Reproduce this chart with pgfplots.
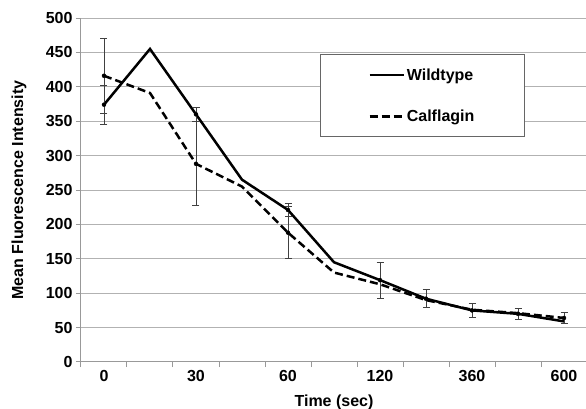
\documentclass[border=0pt]{standalone}
\usepackage{pgfplots}
\pgfplotsset{compat=1.18}
\usepackage{fontspec}
\setmainfont{Liberation Sans}

\newcommand{\lbl}{\bfseries\fontsize{16}{19}\selectfont}

\begin{document}
\begin{tikzpicture}
\path[use as bounding box] (-81pt,-47pt) rectangle (505pt,362pt);
\begin{axis}[
  scale only axis, width=506pt, height=344pt,
  xmin=-0.5, xmax=10.5, ymin=0, ymax=500,
  ytick={0,50,...,500},
  xtick={0,2,...,10}, xticklabels={0,30,60,120,360,600},
  minor xtick={-0.5,0.5,...,10.5},
  major x tick style={draw=none},
  axis x line=bottom, axis y line=left,
  axis line style={-, draw=black!40, line width=1pt},
  ymajorgrids, grid style={black!30, line width=1pt},
  tick align=outside, major tick length=5pt, minor tick length=5pt,
  tick style={draw=black!40, line width=1pt},
  /pgf/number format/assume math mode=true,
  tick label style={font=\lbl},
  xlabel={Time (sec)}, ylabel={Mean Fluorescence Intensity},
  label style={font=\lbl},
  xlabel style={at={(axis description cs:0.5,-0.116)}, anchor=center},
  ylabel style={at={(axis description cs:-0.1225,0.5)}, anchor=center},
  legend style={at={(0.472,0.895)}, anchor=north west, draw=black!60, line width=1pt,
    inner xsep=48pt, inner ysep=12pt, row sep=24pt, font=\lbl,
    /tikz/every even column/.append style={column sep=2pt}},
  legend cell align=left,
  legend image code/.code={\draw[#1] (0pt,0pt) -- (34pt,0pt);},
]
\addplot[black, line width=2.5pt, mark=none] coordinates {
  (0,374)(1,455)(2,360)(3,265)(4,221)(5,145)(6,119)(7,92)(8,75)(9,70)(10,59)};
\addlegendentry{Wildtype}
\addplot[black, line width=2.5pt, dash pattern=on 8pt off 4pt, mark=none] coordinates {
  (0,416)(1,391)(2,288)(3,255)(4,188)(5,130)(6,113)(7,90)(8,76)(9,71)(10,64)};
\addlegendentry{Calflagin}
\addplot[forget plot, only marks, mark=none, black,
  error bars/.cd, y dir=both, y explicit,
  error bar style={line width=0.8pt, color=black!75},
  error mark options={rotate=90, mark size=3.5pt, line width=0.8pt, color=black!75}]
  coordinates {(0,374) +- (0,28) (2,360) +- (0,10) (4,221) +- (0,10) (6,119) +- (0,26)
    (7,92) +- (0,13) (8,75) +- (0,10) (9,70) +- (0,8)};
\addplot[forget plot, only marks, mark=none, black,
  error bars/.cd, y dir=both, y explicit,
  error bar style={line width=0.8pt, color=black!75},
  error mark options={rotate=90, mark size=3.5pt, line width=0.8pt, color=black!75}]
  coordinates {(0,416) +- (0,54) (2,288) +- (0,61) (4,188) +- (0,38) (10,64) +- (0,8)};
\end{axis}
\end{tikzpicture}
\end{document}
